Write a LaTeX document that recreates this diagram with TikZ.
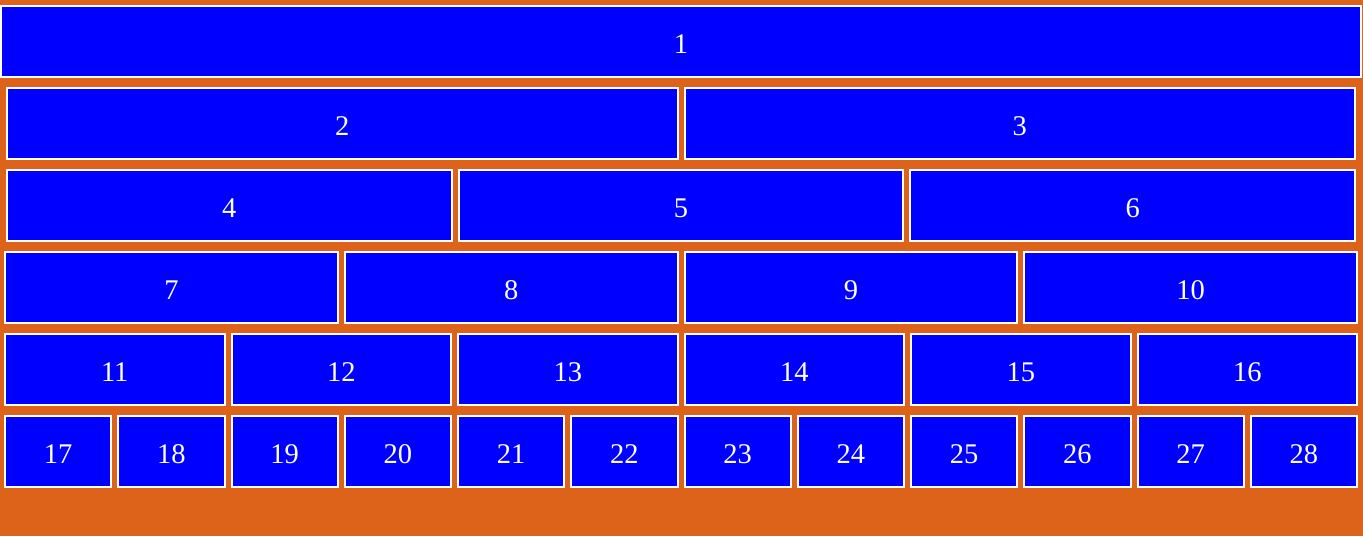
\documentclass[tikz,border=0pt]{standalone}
\usepackage{fontspec}
\setmainfont{Liberation Serif}
\usepackage{xcolor}
\usepackage{tikz}
\usetikzlibrary{positioning}
\definecolor{PageOrange}{RGB}{221,99,26}
\definecolor{CellBlue}{RGB}{0,0,255}

\tikzset{
	cell/.style={draw=white, fill=CellBlue, line width=2pt, inner sep=0pt, outer sep=0pt,
		minimum height=71pt, text=white, text height=23.5pt, text depth=0pt,
		font=\fontsize{28.5}{32}\selectfont}
}

\begin{document}
\begin{tikzpicture}[x=1pt, y=-1pt]
		\fill[PageOrange] (0,0) rectangle (1363,536);
		\useasboundingbox (0,0) rectangle (1363,536);
		
		% rows: boxes / numbers before / left / right / top
		\foreach \k/\off/\L/\R/\y in {1/0/0/1362/5, 2/1/6/1356/87, 3/3/6/1356/169,
			4/6/4/1358/251, 6/10/4/1358/333, 12/16/4/1358/415} {
			\pgfmathsetmacro\cellstep{(\R-\L-5*(\k-1))/\k}
			\pgfmathsetmacro\cellw{\cellstep-2}
			\foreach \i in {1,...,\k} {
				\pgfmathtruncatemacro\n{\off+\i}
				\pgfmathsetmacro\cx{\L+(\i-1)*(\cellstep+5)+\cellstep/2}
				\node[cell, minimum width=\cellw pt] (b\n) at (\cx, \y+36.5) {\n};
			}
		}
	\end{tikzpicture}
\end{document}
